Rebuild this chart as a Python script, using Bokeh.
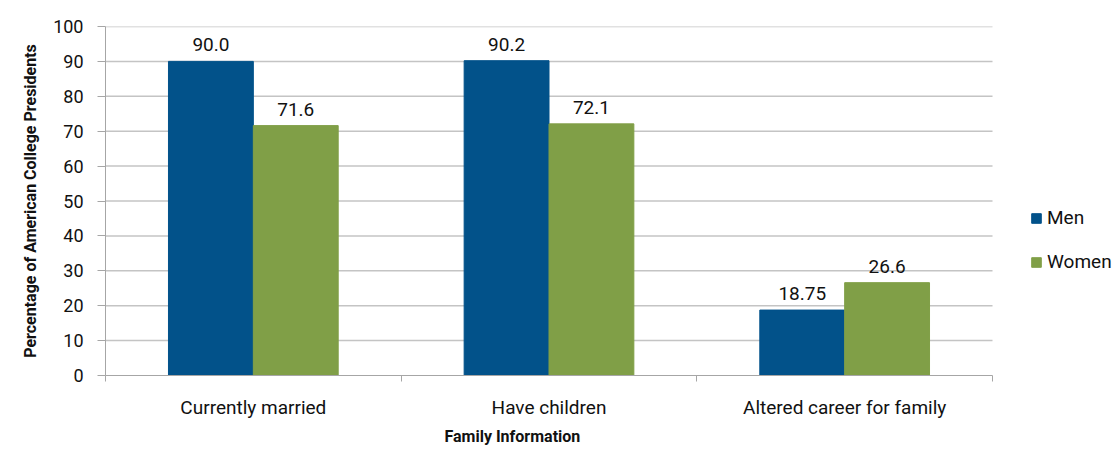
from bokeh.plotting import figure
from bokeh.models import Range1d, FixedTicker, ColumnDataSource, Legend, LegendItem, Title
from bokeh.core.properties import value
from bokeh.embed import file_html
from bokeh.resources import INLINE
import numpy as np

categories = ["Currently married", "Have children", "Altered career for family"]
men = [90.0, 90.2, 18.75]
women = [71.6, 72.1, 26.6]
men_labels = ["90.0", "90.2", "18.75"]
women_labels = ["71.6", "72.1", "26.6"]
y_ticks = [0, 10, 20, 30, 40, 50, 60, 70, 80, 90, 100]

FONT = "Roboto"
MEN_C = "#02528A"
WOMEN_C = "#809F47"
TXT = "#111111"
GRID = "#c4c4c4"
AXC = "#a6a6a6"
BW = 0.287

n = len(categories)
W, H = 1115, 449
LEFT, TOP = 105, 26
FRAME_DATA_W = 887  # pixels covered by the categories
x_end = n * (W - LEFT) / FRAME_DATA_W

p = figure(width=W, height=H, output_backend="svg", toolbar_location=None,
           x_range=Range1d(0, x_end), y_range=Range1d(0, 100),
           min_border_left=LEFT, min_border_right=0, min_border_top=TOP, min_border_bottom=20)
p.outline_line_color = None
p.background_fill_color = "white"
p.xgrid.grid_line_color = None
p.ygrid.grid_line_color = None

# gridlines limited to the category span
gy = y_ticks[1:]
p.segment(x0=[0] * len(gy), x1=[n] * len(gy), y0=gy, y1=gy, line_color=GRID, line_width=1.5)

centers = np.arange(n) + 0.5
src_m = ColumnDataSource(dict(x=centers - BW / 2, top=men, lab=men_labels))
src_w = ColumnDataSource(dict(x=centers + BW / 2, top=women, lab=women_labels))

rm = p.vbar(x="x", top="top", width=BW, source=src_m, fill_color=MEN_C, line_color=MEN_C)
rw = p.vbar(x="x", top="top", width=BW, source=src_w, fill_color=WOMEN_C, line_color=WOMEN_C)

for s in (src_m, src_w):
    p.text(x="x", y="top", text="lab", source=s, text_align="center", text_baseline="bottom",
           y_offset=-10, text_font=value(FONT), text_font_size="19px", text_color=TXT)

# y axis
p.yaxis.ticker = FixedTicker(ticks=y_ticks)
p.yaxis.major_tick_out = 8
p.yaxis.major_tick_in = 0
p.yaxis.minor_tick_line_color = None
p.yaxis.axis_line_color = AXC
p.yaxis.major_tick_line_color = AXC
p.yaxis.major_label_text_font = FONT
p.yaxis.major_label_text_font_size = "18px"
p.yaxis.major_label_text_color = TXT
p.yaxis.major_label_standoff = 14
p.yaxis.axis_label = "Percentage of American College Presidents"
p.yaxis.axis_label_text_font = FONT
p.yaxis.axis_label_text_font_style = "bold"
p.yaxis.axis_label_text_font_size = "16px"
p.yaxis.axis_label_text_color = TXT
p.yaxis.axis_label_standoff = 10

# x axis
p.xaxis.bounds = (0, n)
p.xaxis.ticker = FixedTicker(ticks=list(centers), minor_ticks=list(np.arange(n + 1)))
p.xaxis.major_label_overrides = {float(c): cat for c, cat in zip(centers, categories)}
p.xaxis.major_tick_line_color = None
p.xaxis.minor_tick_out = 6
p.xaxis.minor_tick_in = 0
p.xaxis.minor_tick_line_color = AXC
p.xaxis.axis_line_color = AXC
p.xaxis.major_label_text_font = FONT
p.xaxis.major_label_text_font_size = "19px"
p.xaxis.major_label_text_color = TXT
p.xaxis.major_label_standoff = 14

p.add_layout(Title(text="Family Information", align="left", offset=339, text_font=FONT,
                   text_font_style="bold", text_font_size="16px", text_color=TXT,
                   standoff=7), "below")

legend = Legend(items=[LegendItem(label="Men", renderers=[rm]), LegendItem(label="Women", renderers=[rw])],
                location=(925, 102), orientation="vertical", border_line_color=None,
                background_fill_alpha=0, label_text_font=FONT, label_text_font_size="19px",
                label_text_color=TXT, glyph_width=12, glyph_height=12, spacing=21,
                label_standoff=5, padding=0, margin=0)
p.add_layout(legend)

open("out.html", "w").write(file_html(p, INLINE))
